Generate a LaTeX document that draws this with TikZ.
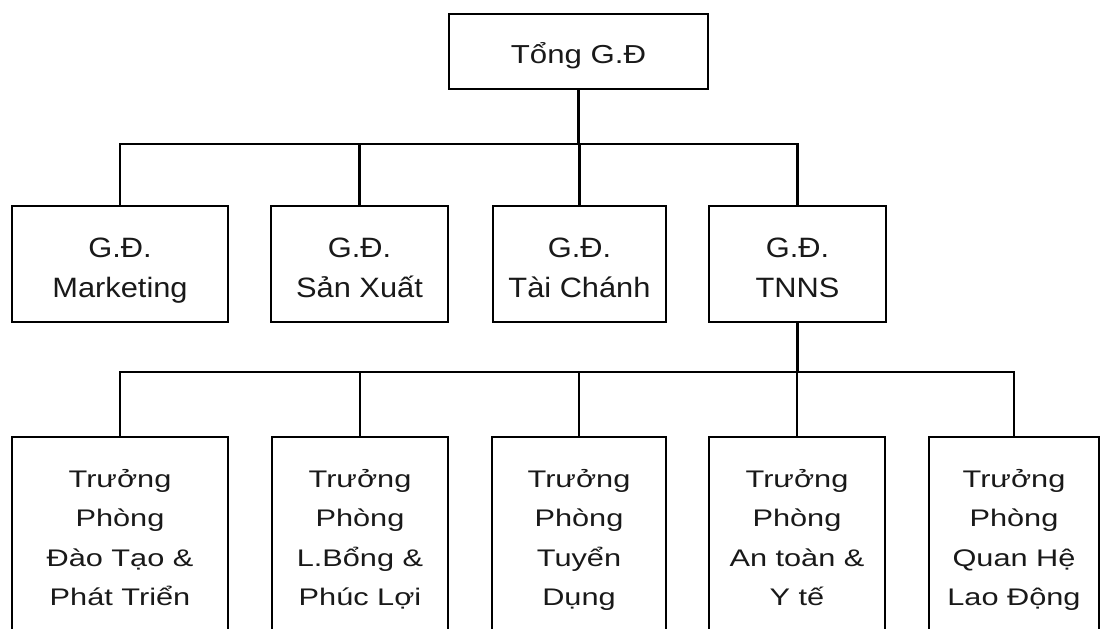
\documentclass[tikz,border=0pt]{standalone}
\usepackage{fontspec}
\setmainfont{Liberation Sans}
\newfontfamily\fone{Liberation Sans}[FakeStretch=1.2]
\newfontfamily\ftwo{Liberation Sans}[FakeStretch=1.1]
\newfontfamily\fthree{Liberation Sans}[FakeStretch=1.28]
\newcommand\topstrut{\rule[-4.25pt]{0pt}{20pt}}
\newcommand\twostrut{\rule[-3.5pt]{0pt}{20pt}}
\begin{document}
\begin{tikzpicture}[x=0.5pt,y=-0.5pt,
  box/.style={draw=black,line width=1.3pt,rectangle,inner sep=0pt,align=center,text=black!90},
  lvtwo/.style={box,font=\ftwo\fontsize{14}{20}\selectfont,minimum height=58pt},
  lvthree/.style={box,font=\fthree\fontsize{12}{19.75}\selectfont,minimum height=101.5pt},
  conn/.style={draw=black,line width=1.3pt}]
\useasboundingbox (0,0) rectangle (1100,628);
\clip (0,0) rectangle (1100,628);
\node[box,font=\fone\fontsize{13}{20}\selectfont,minimum width=129.5pt,minimum height=37.5pt] (top) at (578.5,51.5) {\topstrut Tổng G.Đ};
\node[lvtwo,minimum width=108pt] (m1) at (120,264) {\twostrut G.Đ.\\\twostrut Marketing};
\node[lvtwo,minimum width=88.5pt] (m2) at (359.5,264) {\twostrut G.Đ.\\\twostrut Sản Xuất};
\node[lvtwo,minimum width=86.5pt] (m3) at (579.5,264) {\twostrut G.Đ.\\\twostrut Tài Chánh};
\node[lvtwo,minimum width=88.5pt] (m4) at (797.5,264) {\twostrut G.Đ.\\\twostrut TNNS};
\node[lvthree,minimum width=108pt] (b1) at (120,538.5) {\strut Trưởng\\\strut Phòng\\\strut Đào Tạo \&\\\strut Phát Triển};
\node[lvthree,minimum width=88pt] (b2) at (360,538.5) {\strut Trưởng\\\strut Phòng\\\strut L.Bổng \&\\\strut Phúc Lợi};
\node[lvthree,minimum width=87pt] (b3) at (579,538.5) {\strut Trưởng\\\strut Phòng\\\strut Tuyển\\\strut Dụng};
\node[lvthree,minimum width=88pt] (b4) at (797,538.5) {\strut Trưởng\\\strut Phòng\\\strut An toàn \&\\\strut Y tế};
\node[lvthree,minimum width=85pt] (b5) at (1014,538.5) {\strut Trưởng\\\strut Phòng\\\strut Quan Hệ\\\strut Lao Động};
\coordinate (j1) at (578.5,144);
\coordinate (j2) at (797.5,372);
\draw[conn] (top.south) -- (j1);
\draw[conn] (m1.north) |- (j1) -| (m4.north);
\draw[conn] (m2.north) -- (m2.north |- j1);
\draw[conn] (m3.north) -- (m3.north |- j1);
\draw[conn] (m4.south) -- (j2);
\draw[conn] (b1.north) |- (j2) -| (b5.north);
\draw[conn] (b2.north) -- (b2.north |- j2);
\draw[conn] (b3.north) -- (b3.north |- j2);
\draw[conn] (b4.north) -- (b4.north |- j2);
\end{tikzpicture}
\end{document}
